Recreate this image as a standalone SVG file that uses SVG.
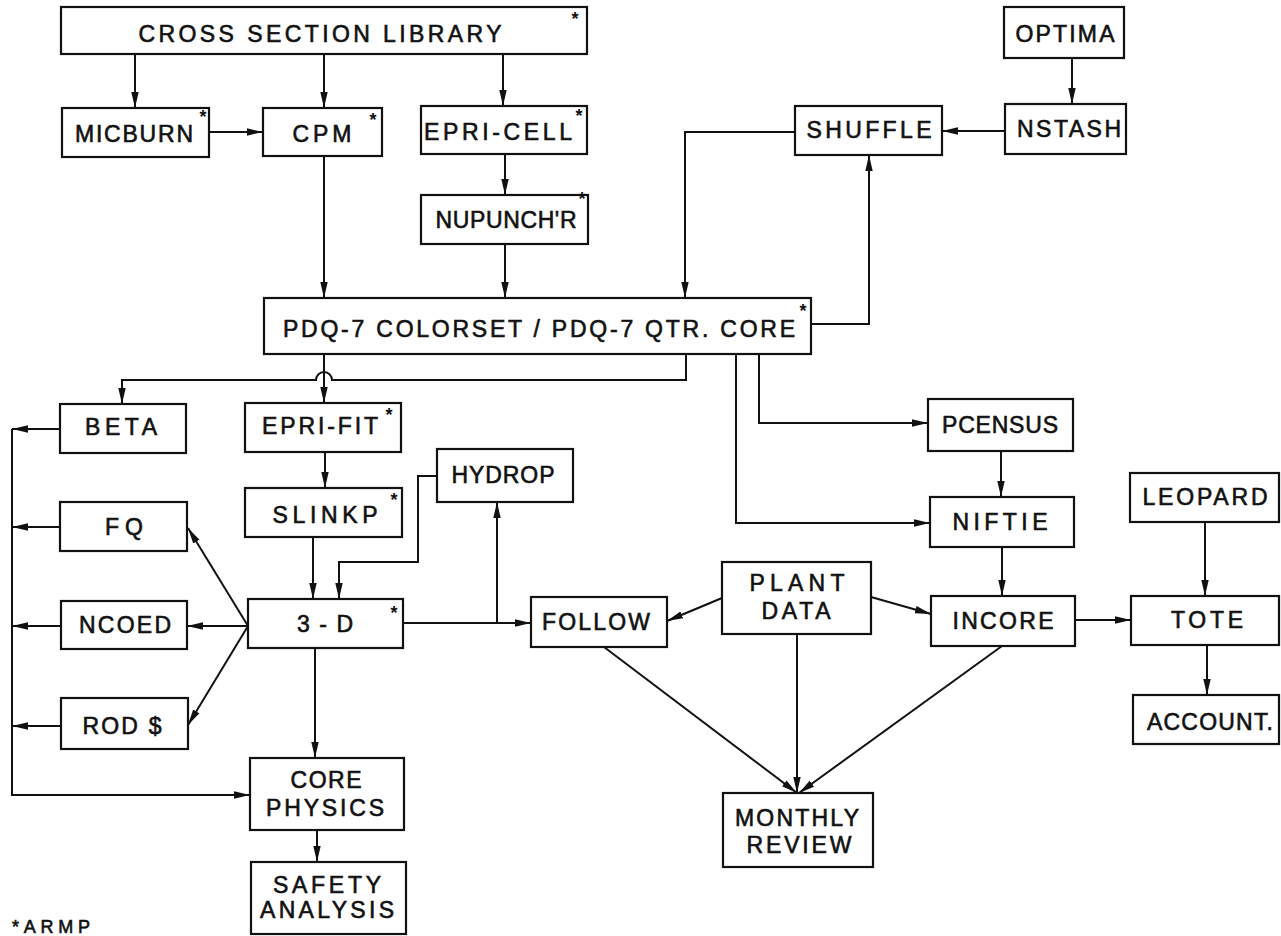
<svg xmlns="http://www.w3.org/2000/svg" width="1281" height="936" viewBox="0 0 1281 936">
<style>
.box{fill:#fff;stroke:#111;stroke-width:2.2}
.lbl{font-family:"Liberation Sans",Arial,sans-serif;font-size:23px;fill:#111;stroke:#111;stroke-width:0.6;text-anchor:middle}
.ast{font-family:"Liberation Sans",Arial,sans-serif;font-size:18px;font-weight:bold;fill:#111;text-anchor:middle}
.c{fill:none;stroke:#111;stroke-width:2}
.a{marker-end:url(#ah)}
</style>
<defs>
<marker id="ah" markerWidth="17" markerHeight="9" refX="16" refY="4.5" orient="auto" markerUnits="userSpaceOnUse">
<path d="M0,0.8 L16,4.5 L0,8.2 Z" fill="#111"/>
</marker>
</defs>
<rect width="1281" height="936" fill="#fff"/>
<g id="connectors">
<path class="c a" d="M135,54 V108"/>
<path class="c a" d="M324,54 V108"/>
<path class="c a" d="M503,54 V106"/>
<path class="c a" d="M209,132 H263"/>
<path class="c a" d="M324,156 V298"/>
<path class="c a" d="M505,154 V195"/>
<path class="c a" d="M505,244 V298"/>
<path class="c a" d="M1072,58 V104"/>
<path class="c a" d="M1005,131 H942"/>
<path class="c a" d="M795,132 H685 V298"/>
<path class="c a" d="M811,324 H869 V155"/>
<path class="c a" d="M686,354 V380 H332 A8,8 0 0 0 316,380 H122 V404"/>
<path class="c a" d="M324,354 V403"/>
<path class="c a" d="M759,354 V423 H928"/>
<path class="c a" d="M736,354 V523 H930"/>
<path class="c a" d="M325,452 V488"/>
<path class="c a" d="M313,537 V599"/>
<path class="c a" d="M437,476 H418 V562 H339 V599"/>
<path class="c a" d="M60,429 H12"/>
<path class="c a" d="M60,527 H12"/>
<path class="c a" d="M61,626 H12"/>
<path class="c a" d="M61,726 H12"/>
<path class="c a" d="M12,429 V795 H250"/>
<path class="c a" d="M248,626 L188,528"/>
<path class="c a" d="M248,626 H187"/>
<path class="c a" d="M248,626 L188,725"/>
<path class="c a" d="M315,648 V758"/>
<path class="c a" d="M317,830 V862"/>
<path class="c a" d="M403,623 H531"/>
<path class="c a" d="M497,623 V502"/>
<path class="c a" d="M722,598 L667,621"/>
<path class="c a" d="M871,597 L931,614"/>
<path class="c a" d="M797,634 V793"/>
<path class="c a" d="M604,647 L797,793"/>
<path class="c a" d="M1002,646 L799,793"/>
<path class="c a" d="M1001,451 V497"/>
<path class="c a" d="M1002,547 V596"/>
<path class="c a" d="M1075,620 H1131"/>
<path class="c a" d="M1205,522 V596"/>
<path class="c a" d="M1207,645 V695"/>
</g>
<g id="n-csl"><rect class="box" x="61" y="7" width="526" height="47"/><text class="lbl" x="320" y="42" textLength="363" lengthAdjust="spacing">CROSS SECTION LIBRARY</text><text class="ast" x="575" y="25">*</text></g>
<g id="n-micburn"><rect class="box" x="62" y="108" width="147" height="49"/><text class="lbl" x="134" y="142" textLength="118" lengthAdjust="spacing">MICBURN</text><text class="ast" x="203" y="123">*</text></g>
<g id="n-cpm"><rect class="box" x="263" y="108" width="119" height="48"/><text class="lbl" x="322" y="142" textLength="59" lengthAdjust="spacing">CPM</text><text class="ast" x="373" y="126">*</text></g>
<g id="n-epricell"><rect class="box" x="421" y="106" width="166" height="48"/><text class="lbl" x="498" y="140" textLength="148" lengthAdjust="spacing">EPRI-CELL</text><text class="ast" x="579" y="122">*</text></g>
<g id="n-optima"><rect class="box" x="1004" y="7" width="120" height="51"/><text class="lbl" x="1065" y="42" textLength="99" lengthAdjust="spacing">OPTIMA</text></g>
<g id="n-nstash"><rect class="box" x="1005" y="104" width="121" height="50"/><text class="lbl" x="1069" y="137" textLength="104" lengthAdjust="spacing">NSTASH</text></g>
<g id="n-shuffle"><rect class="box" x="795" y="106" width="147" height="49"/><text class="lbl" x="869" y="138" textLength="125" lengthAdjust="spacing">SHUFFLE</text></g>
<g id="n-nupunchr"><rect class="box" x="421" y="195" width="167" height="49"/><text class="lbl" x="506" y="228" textLength="141" lengthAdjust="spacing">NUPUNCH'R</text><text class="ast" x="582" y="205">*</text></g>
<g id="n-pdq"><rect class="box" x="264" y="298" width="547" height="56"/><text class="lbl" x="539" y="337" textLength="512" lengthAdjust="spacing">PDQ-7 COLORSET / PDQ-7 QTR. CORE</text><text class="ast" x="803" y="317">*</text></g>
<g id="n-beta"><rect class="box" x="60" y="404" width="126" height="49"/><text class="lbl" x="121" y="435" textLength="72" lengthAdjust="spacing">BETA</text></g>
<g id="n-eprifit"><rect class="box" x="245" y="403" width="156" height="49"/><text class="lbl" x="320" y="434" textLength="116" lengthAdjust="spacing">EPRI-FIT</text><text class="ast" x="389" y="421">*</text></g>
<g id="n-slinkp"><rect class="box" x="245" y="488" width="157" height="49"/><text class="lbl" x="325" y="523" textLength="105" lengthAdjust="spacing">SLINKP</text><text class="ast" x="394" y="506">*</text></g>
<g id="n-hydrop"><rect class="box" x="437" y="449" width="136" height="53"/><text class="lbl" x="503" y="483" textLength="103" lengthAdjust="spacing">HYDROP</text></g>
<g id="n-fq"><rect class="box" x="60" y="502" width="127" height="49"/><text class="lbl" x="124" y="535" textLength="38" lengthAdjust="spacing">FQ</text></g>
<g id="n-ncoed"><rect class="box" x="61" y="601" width="126" height="48"/><text class="lbl" x="125" y="633" textLength="92" lengthAdjust="spacing">NCOED</text></g>
<g id="n-3d"><rect class="box" x="248" y="599" width="155" height="49"/><text class="lbl" x="325" y="632" textLength="56" lengthAdjust="spacing">3-D</text><text class="ast" x="394" y="619">*</text></g>
<g id="n-rod"><rect class="box" x="61" y="698" width="127" height="51"/><text class="lbl" x="122" y="734" textLength="79" lengthAdjust="spacing">ROD $</text></g>
<g id="n-corephysics"><rect class="box" x="250" y="758" width="154" height="72"/><text class="lbl" x="326" y="788" textLength="71" lengthAdjust="spacing">CORE</text><text class="lbl" x="325" y="816" textLength="118" lengthAdjust="spacing">PHYSICS</text></g>
<g id="n-safety"><rect class="box" x="251" y="862" width="155" height="72"/><text class="lbl" x="327" y="893" textLength="108" lengthAdjust="spacing">SAFETY</text><text class="lbl" x="327" y="918" textLength="134" lengthAdjust="spacing">ANALYSIS</text></g>
<g id="n-follow"><rect class="box" x="531" y="597" width="136" height="50"/><text class="lbl" x="596" y="630" textLength="108" lengthAdjust="spacing">FOLLOW</text></g>
<g id="n-plantdata"><rect class="box" x="722" y="562" width="149" height="72"/><text class="lbl" x="797" y="591" textLength="95" lengthAdjust="spacing">PLANT</text><text class="lbl" x="796" y="619" textLength="69" lengthAdjust="spacing">DATA</text></g>
<g id="n-monthly"><rect class="box" x="723" y="793" width="150" height="74"/><text class="lbl" x="797" y="826" textLength="124" lengthAdjust="spacing">MONTHLY</text><text class="lbl" x="799" y="853" textLength="105" lengthAdjust="spacing">REVIEW</text></g>
<g id="n-pcensus"><rect class="box" x="928" y="399" width="145" height="52"/><text class="lbl" x="1000" y="433" textLength="116" lengthAdjust="spacing">PCENSUS</text></g>
<g id="n-niftie"><rect class="box" x="930" y="497" width="144" height="50"/><text class="lbl" x="1000" y="530" textLength="95" lengthAdjust="spacing">NIFTIE</text></g>
<g id="n-incore"><rect class="box" x="931" y="596" width="144" height="50"/><text class="lbl" x="1003" y="629" textLength="101" lengthAdjust="spacing">INCORE</text></g>
<g id="n-leopard"><rect class="box" x="1130" y="473" width="149" height="49"/><text class="lbl" x="1205" y="505" textLength="125" lengthAdjust="spacing">LEOPARD</text></g>
<g id="n-tote"><rect class="box" x="1131" y="596" width="148" height="49"/><text class="lbl" x="1207" y="628" textLength="72" lengthAdjust="spacing">TOTE</text></g>
<g id="n-account"><rect class="box" x="1133" y="695" width="146" height="49"/><text class="lbl" x="1210" y="730" textLength="126" lengthAdjust="spacing">ACCOUNT.</text></g>
<g id="note"><text class="lbl" x="12" y="933" style="text-anchor:start;font-size:18px" textLength="78" lengthAdjust="spacing">*ARMP</text></g>
</svg>
